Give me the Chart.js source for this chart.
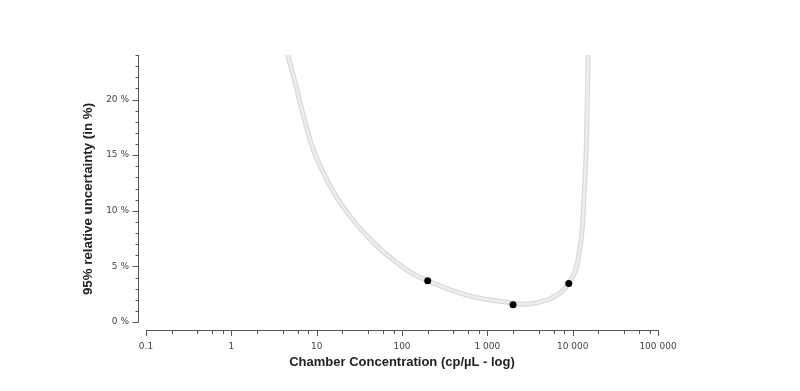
<!DOCTYPE html>
<html>
<head>
<meta charset="utf-8">
<script src="https://cdn.jsdelivr.net/npm/chart.js@4.4.1/dist/chart.umd.min.js"></script>
<style>
  html, body { margin: 0; padding: 0; background: #fff; }
  #wrap { width: 800px; height: 391px; }
</style>
</head>
<body>
<div id="wrap"><canvas id="uncertaintyChart"></canvas></div>
<script>
// Curve (concentration in cp/µL, uncertainty in %)
const curveConc = [4.52, 5.61, 6.96, 9.12, 12.6, 17.9, 28.4, 51.4, 88.3, 164, 586, 2000, 2965, 5090, 7230, 9000, 10840, 12080, 12920, 13830, 14400, 15200];
const curveUnc  = [24.2, 21.5, 18.6, 15.5, 13.1, 11.0, 8.9, 6.8, 5.3, 4.0, 2.4, 1.7, 1.6, 2.0, 2.65, 3.5, 4.7, 6.5, 8.3, 12.5, 15.5, 24.2];

// Measured samples (black dots)
const sampleConc = [200, 2000, 9000];
const sampleUnc  = [3.7, 1.55, 3.45];

// Axis ticks
const xTicks = [0.1, 1, 10, 100, 1000, 10000, 100000];
const xMinorSteps = [2, 4, 6, 8];
const yTicks = [0, 5, 10, 15, 20];
const yMax = 24;
const yTitle = '95% relative uncertainty (in %)';

const curvePoints = curveConc.map((c, i) => ({ x: c, y: curveUnc[i] }));
const samplePoints = sampleConc.map((c, i) => ({ x: c, y: sampleUnc[i] }));

function fmtThousands(v) {
  if (v < 1) return String(v);
  return String(Math.round(v)).replace(/\B(?=(\d{3})+(?!\d))/g, ' ');
}

// Draws the detached axis lines with major / minor ticks and the y title
const detachedAxes = {
  id: 'detachedAxes',
  afterDraw(chart) {
    const { ctx, chartArea, scales } = chart;
    const xs = scales.x, ys = scales.y;
    const axisX = chartArea.left - 8;
    const axisY = chartArea.bottom + 8;
    ctx.save();
    ctx.strokeStyle = '#555';
    ctx.lineWidth = 1;
    ctx.beginPath();

    // y axis
    const yTop = ys.getPixelForValue(yMax);
    const yBot = ys.getPixelForValue(0);
    ctx.moveTo(axisX + 0.5, Math.round(yTop));
    ctx.lineTo(axisX + 0.5, Math.round(yBot) + 0.5);
    for (let v = 0; v <= yMax; v++) {
      const py = Math.round(ys.getPixelForValue(v)) + 0.5;
      const len = v % 5 === 0 ? 6 : 3;
      ctx.moveTo(axisX + 0.5, py);
      ctx.lineTo(axisX + 0.5 - len, py);
    }

    // x axis
    const xl = xs.getPixelForValue(xTicks[0]);
    const xr = xs.getPixelForValue(xTicks[xTicks.length - 1]);
    ctx.moveTo(Math.round(xl), axisY + 0.5);
    ctx.lineTo(Math.round(xr) + 1, axisY + 0.5);
    xTicks.forEach((t, i) => {
      const px = Math.round(xs.getPixelForValue(t)) + 0.5;
      ctx.moveTo(px, axisY + 0.5);
      ctx.lineTo(px, axisY + 6);
      if (i < xTicks.length - 1) {
        xMinorSteps.forEach(m => {
          const mx = Math.round(xs.getPixelForValue(t * m)) + 0.5;
          ctx.moveTo(mx, axisY + 0.5);
          ctx.lineTo(mx, axisY + 4);
        });
      }
    });
    ctx.stroke();

    // y title, slightly below the middle of the axis like the original
    ctx.translate(88, 199);
    ctx.rotate(-Math.PI / 2);
    ctx.fillStyle = '#222';
    ctx.font = 'bold 13.3px "Liberation Sans"';
    ctx.textAlign = 'center';
    ctx.textBaseline = 'middle';
    ctx.fillText(yTitle, 0, 0);
    ctx.restore();
  }
};

new Chart(document.getElementById('uncertaintyChart'), {
  type: 'scatter',
  data: {
    datasets: [
      {
        label: 'band edge',
        data: curvePoints,
        showLine: true,
        borderColor: '#d9d9d9',
        borderWidth: 5,
        pointRadius: 0,
        tension: 0.4,
        order: 3
      },
      {
        label: 'band',
        data: curvePoints,
        showLine: true,
        borderColor: '#ededed',
        borderWidth: 2.5,
        pointRadius: 0,
        tension: 0.4,
        order: 2
      },
      {
        label: 'samples',
        data: samplePoints,
        showLine: false,
        pointRadius: 3.5,
        pointBackgroundColor: '#000',
        pointBorderColor: '#000',
        pointBorderWidth: 0,
        order: 1
      }
    ]
  },
  options: {
    responsive: true,
    maintainAspectRatio: false,
    animation: false,
    layout: { padding: { left: 76, right: 142, top: 55, bottom: 20 } },
    plugins: {
      legend: { display: false },
      tooltip: { enabled: false }
    },
    scales: {
      x: {
        type: 'logarithmic',
        min: 0.1,
        max: 100000,
        grid: { display: false, drawTicks: false },
        border: { display: false },
        afterBuildTicks: scale => { scale.ticks = xTicks.map(v => ({ value: v })); },
        afterFit: scale => { scale.height = 49; },
        ticks: {
          autoSkip: false,
          maxRotation: 0,
          padding: 19,
          color: '#444',
          font: { family: 'DejaVu Sans', size: 9 },
          callback: v => fmtThousands(v)
        },
        title: {
          display: true,
          text: 'Chamber Concentration (cp/µL - log)',
          color: '#222',
          font: { family: 'Liberation Sans', size: 13, weight: 'bold' },
          padding: { top: 0, bottom: 1 }
        }
      },
      y: {
        min: 0,
        max: yMax,
        grid: { display: false, drawTicks: false },
        border: { display: false },
        afterBuildTicks: scale => { scale.ticks = yTicks.map(v => ({ value: v })); },
        afterFit: scale => { scale.width = 146 - 76; },
        ticks: {
          padding: 17,
          color: '#444',
          font: { family: 'DejaVu Sans', size: 9 },
          callback: v => v + ' %'
        },
        title: { display: false }
      }
    }
  },
  plugins: [detachedAxes]
});
</script>
</body>
</html>
